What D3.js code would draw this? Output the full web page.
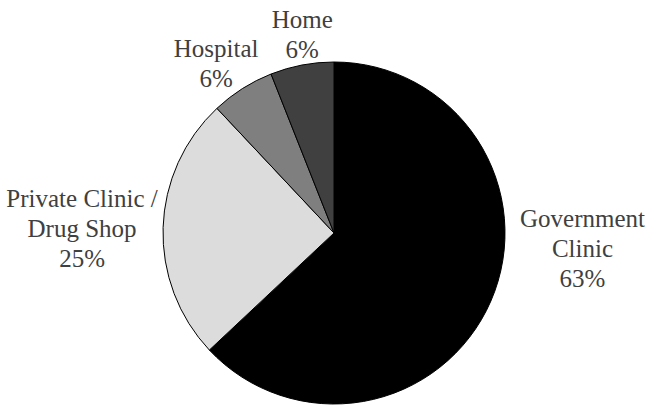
<!DOCTYPE html>
<html>
<head>
<meta charset="utf-8">
<script src="https://cdn.jsdelivr.net/npm/d3@7"></script>
<style>
  html, body { margin: 0; padding: 0; background: #ffffff; }
  svg { display: block; }
</style>
</head>
<body>
<svg id="chart" width="648" height="405"></svg>
<script>
// ---- data ----
const categories = ["Government Clinic", "Private Clinic / Drug Shop", "Hospital", "Home"];
const labelLines = [["Government", "Clinic"], ["Private Clinic /", "Drug Shop"], ["Hospital"], ["Home"]];
const values = [63, 25, 6, 6];
const colors = ["#000000", "#dcdcdc", "#7f7f7f", "#404040"];

// ---- layout ----
const width = 648, height = 405;
const cx = 334, cy = 233, radius = 171;
// label placement (angle in degrees clockwise from 12 o'clock, distance from centre)
const labelPolar = [[93.7, 249], [270.9, 252], [325.1, 206], [350.9, 201]];
const lineGap = 30;

const svg = d3.select("#chart");
const g = svg.append("g").attr("transform", `translate(${cx},${cy})`);

const data = categories.map((c, i) => ({ name: c, value: values[i], color: colors[i], lines: labelLines[i] }));

const pie = d3.pie().sort(null).value(d => d.value);
const arc = d3.arc().innerRadius(0).outerRadius(radius);
const arcs = pie(data);

g.selectAll("path.slice")
  .data(arcs)
  .enter().append("path")
  .attr("class", "slice")
  .attr("d", arc)
  .attr("fill", d => d.data.color)
  .attr("stroke", "#000000")
  .attr("stroke-width", 1)
  .attr("stroke-linejoin", "round");

const fmt = d3.format(".0%");
const total = d3.sum(values);

const labels = g.selectAll("text.label")
  .data(arcs)
  .enter().append("text")
  .attr("class", "label")
  .attr("text-anchor", "middle")
  .style("font-family", '"Liberation Serif"')
  .style("font-size", "25px")
  .style("fill", "#404040");

labels.each(function(d, i) {
  const [angDeg, dist] = labelPolar[i];
  const a = angDeg * Math.PI / 180;
  const x = dist * Math.sin(a);
  const y = -dist * Math.cos(a);
  const lines = d.data.lines.concat([fmt(d.data.value / total)]);
  const n = lines.length;
  const t = d3.select(this);
  lines.forEach((ln, k) => {
    t.append("tspan")
      .attr("x", x)
      .attr("y", y + 8 + (k - (n - 1) / 2) * lineGap)
      .text(ln);
  });
});
</script>
</body>
</html>
